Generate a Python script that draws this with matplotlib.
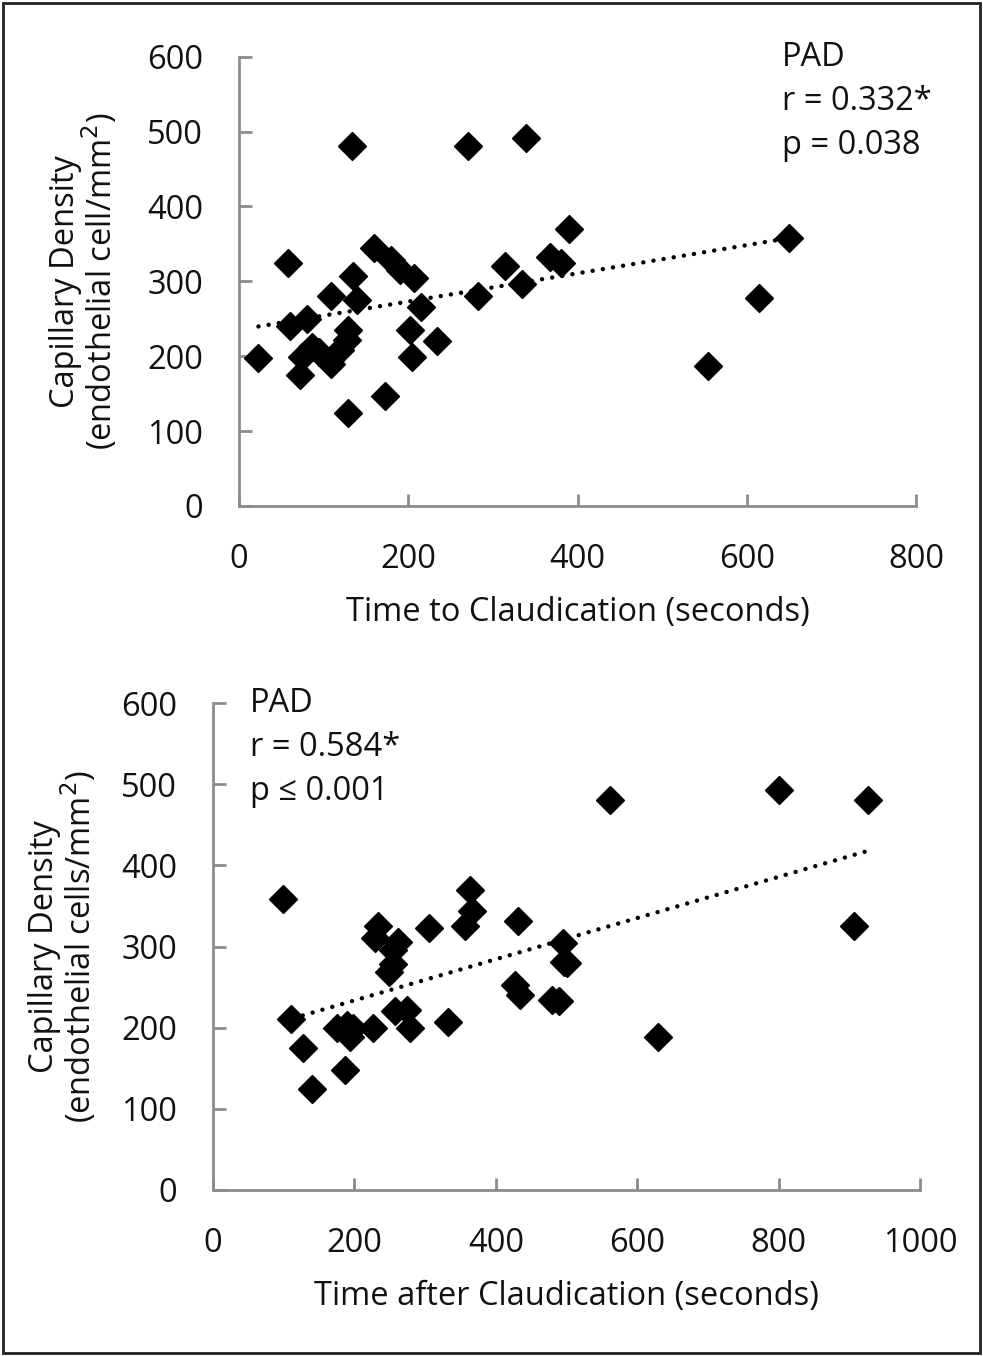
import numpy as np
import matplotlib
matplotlib.use("Agg")
import matplotlib.pyplot as plt
from matplotlib.patches import Rectangle

plt.rcParams['font.family'] = ['Open Sans', 'DejaVu Sans']

# top panel: time to claudication vs capillary density
top_x = [23, 58, 133, 271, 339, 390, 160, 180, 190, 207, 135, 109, 140, 215,
         60, 80, 129, 202, 234, 86, 74, 119, 109, 72, 205, 172, 129, 314,
         282, 335, 368, 380, 650, 615, 554, 95, 128]
top_y = [198, 324, 481, 481, 492, 370, 344, 328, 315, 304, 307, 280, 275, 266,
         241, 250, 235, 235, 221, 212, 199, 208, 190, 175, 199, 147, 124, 321,
         281, 297, 332, 324, 358, 278, 187, 205, 222]

# bottom panel: time after claudication vs capillary density
bot_x = [99, 110, 128, 140, 187, 175, 189, 194, 198, 227, 234, 229, 262, 255,
         255, 249, 257, 274, 279, 306, 332, 363, 366, 357, 431, 427, 434, 479,
         490, 495, 496, 500, 629, 561, 800, 927, 907]
bot_y = [358, 211, 175, 125, 148, 199, 203, 189, 199, 199, 325, 310, 306, 296,
         279, 269, 220, 222, 199, 323, 207, 370, 344, 325, 331, 252, 240, 234,
         233, 304, 281, 280, 188, 481, 493, 481, 325]

top_text = ["PAD", "r = 0.332*", "p = 0.038"]
bot_text = ["PAD", "r = 0.584*", "p \u2264 0.001"]

W, H = 983, 1356
FS = 23.5
TXT = '#111111'
fig = plt.figure(figsize=(W / 100, H / 100), dpi=100)
fig.patches.append(Rectangle((3 / W, 3 / H), 1 - 6 / W, 1 - 6 / H,
                             transform=fig.transFigure, fill=False,
                             edgecolor='#222222', linewidth=2))

ax1 = fig.add_axes([239 / W, (H - 506) / H, (916 - 239) / W, (506 - 56.7) / H])
ax2 = fig.add_axes([213 / W, (H - 1190) / H, (920 - 213) / W, (1190 - 703) / H])


def style(ax, xmax, xstep):
    ax.set_xlim(0, xmax)
    ax.set_ylim(0, 600)
    ax.set_xticks(np.arange(0, xmax + 1, xstep))
    ax.set_yticks(np.arange(0, 601, 100))
    for s in ['top', 'right']:
        ax.spines[s].set_visible(False)
    for s in ['left', 'bottom']:
        ax.spines[s].set_color('#8c8c8c')
        ax.spines[s].set_linewidth(2)
    ax.tick_params(direction='in', length=9, width=2, color='#8c8c8c',
                   labelsize=FS, labelcolor=TXT)
    ax.tick_params(axis='x', pad=27)
    ax.tick_params(axis='y', pad=26)


def draw(ax, x, y):
    x = np.array(x)
    y = np.array(y)
    k, b = np.polyfit(x, y, 1)
    xs = np.array([x.min(), x.max()])
    ax.plot(xs, k * xs + b, color='black', lw=3.2,
            linestyle=(0, (0.01, 2.3)), dash_capstyle='round', zorder=2)
    ax.plot(x, y, linestyle='none', marker='D', markersize=14,
            color='black', zorder=3, clip_on=False)


style(ax1, 800, 200)
style(ax2, 1000, 200)
draw(ax1, top_x, top_y)
draw(ax2, bot_x, bot_y)

ax1.set_xlabel("Time to Claudication (seconds)", fontsize=FS, labelpad=14,
               color=TXT)
ax2.set_xlabel("Time after Claudication (seconds)", fontsize=FS, labelpad=14,
               color=TXT)
ax1.set_ylabel("Capillary Density\n(endothelial cell/mm$^2$)", fontsize=FS,
               color=TXT, linespacing=0.95)
ax2.set_ylabel("Capillary Density\n(endothelial cells/mm$^2$)", fontsize=FS,
               color=TXT, linespacing=0.95)
# label coords set the right-hand edge of the rotated two-line label
ax1.yaxis.set_label_coords((120 - 239) / 677, 0.5)
ax2.yaxis.set_label_coords((99 - 213) / 707, 0.5)

for i, t in enumerate(top_text):
    fig.text(782 / W, 1 - (58 + 44 * i) / H, t, fontsize=FS,
             va='center', ha='left', color=TXT)
for i, t in enumerate(bot_text):
    fig.text(250 / W, 1 - (703 + 44 * i) / H, t, fontsize=FS,
             va='center', ha='left', color=TXT)

fig.savefig("out.png", dpi=100)
